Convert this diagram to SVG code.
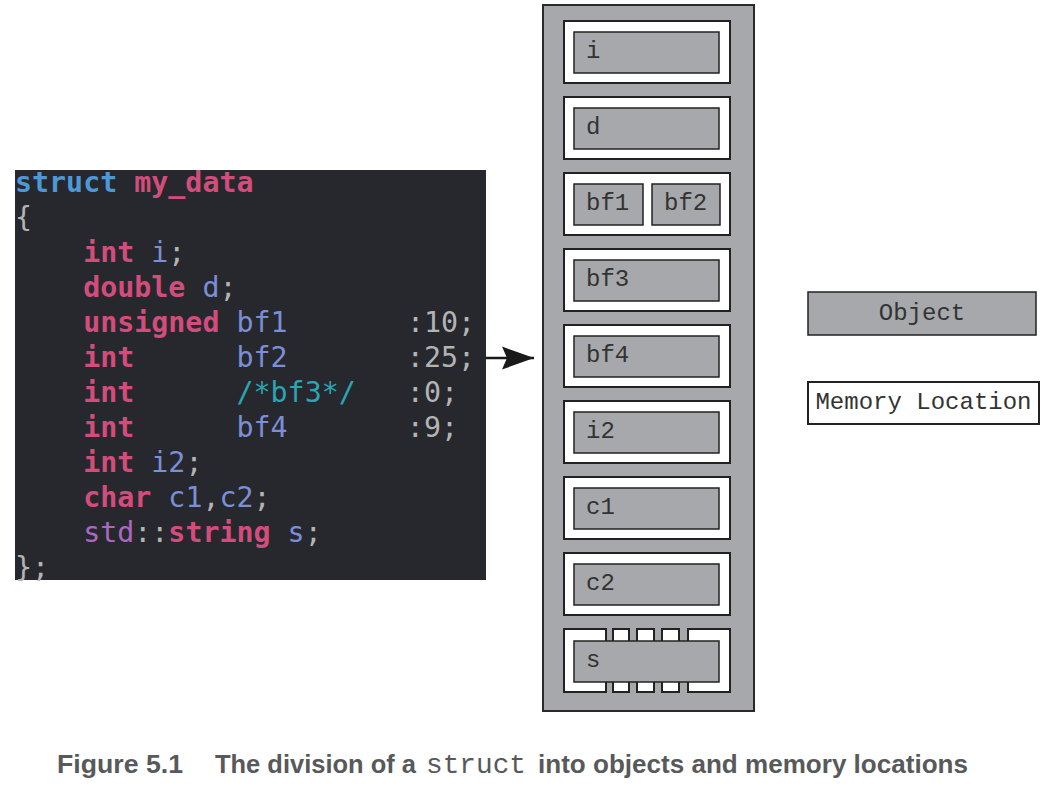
<svg xmlns="http://www.w3.org/2000/svg" width="1057" height="787" viewBox="0 0 1057 787">
<style>
.code{font-family:"DejaVu Sans Mono","Liberation Mono",monospace;font-size:28.3px;white-space:pre}
.kw{fill:#d24d7b;font-weight:bold}
.st{fill:#4e98d8;font-weight:bold}
.id{fill:#7a8fd8}
.pu{fill:#b4b4b4}
.cm{fill:#2ba5b3}
.ns{fill:#ab68c2}
.mem{fill:#fff;stroke:#222;stroke-width:2}
.obj{fill:#a7a8ab;stroke:#222;stroke-width:1.5}
.lbl{font-family:"Liberation Mono","Courier New",monospace;font-size:24px;fill:#333}
.cap{font-family:"Liberation Sans",Arial,sans-serif;font-weight:bold;font-size:26px;fill:#58595b}
.capm{font-family:"Liberation Mono","Courier New",monospace;font-size:27px;fill:#58595b}
</style>
<defs>
<marker id="ah" markerUnits="userSpaceOnUse" markerWidth="40" markerHeight="30" refX="34" refY="12" orient="auto" viewBox="0 0 40 30">
<path d="M34,12 L2,0.5 L7,12 L2,23.5 Z" fill="#1a1a1a"/>
</marker>
</defs>
<rect width="1057" height="787" fill="#fff"/>

<g id="code">
<rect x="15" y="170" width="471" height="410" fill="#27282d"/>
<text class="code" x="15" y="192"><tspan class="st">struct</tspan> <tspan class="kw">my_data</tspan></text>
<text class="code pu" x="15" y="227">{</text>
<text class="code" x="15" y="262">    <tspan class="kw">int</tspan> <tspan class="id">i</tspan><tspan class="pu">;</tspan></text>
<text class="code" x="15" y="297">    <tspan class="kw">double</tspan> <tspan class="id">d</tspan><tspan class="pu">;</tspan></text>
<text class="code" x="15" y="332">    <tspan class="kw">unsigned</tspan> <tspan class="id">bf1</tspan>       <tspan class="pu">:10;</tspan></text>
<text class="code" x="15" y="367">    <tspan class="kw">int</tspan>      <tspan class="id">bf2</tspan>       <tspan class="pu">:25;</tspan></text>
<text class="code" x="15" y="402">    <tspan class="kw">int</tspan>      <tspan class="cm">/*bf3*/</tspan>   <tspan class="pu">:0;</tspan></text>
<text class="code" x="15" y="437">    <tspan class="kw">int</tspan>      <tspan class="id">bf4</tspan>       <tspan class="pu">:9;</tspan></text>
<text class="code" x="15" y="472">    <tspan class="kw">int</tspan> <tspan class="id">i2</tspan><tspan class="pu">;</tspan></text>
<text class="code" x="15" y="507">    <tspan class="kw">char</tspan> <tspan class="id">c1</tspan><tspan class="pu">,</tspan><tspan class="id">c2</tspan><tspan class="pu">;</tspan></text>
<text class="code" x="15" y="542">    <tspan class="ns">std</tspan><tspan class="pu">::</tspan><tspan class="kw">string</tspan> <tspan class="id">s</tspan><tspan class="pu">;</tspan></text>
<text class="code pu" x="15" y="577">};</text>
</g>

<g id="connectors">
<line x1="486" y1="358" x2="534" y2="358" stroke="#1a1a1a" stroke-width="2.5" marker-end="url(#ah)"/>
</g>

<g id="struct">
<rect x="543" y="5" width="211" height="706" fill="#a7a8ab" stroke="#2a2a2a" stroke-width="2"/>
</g>

<g id="m-i">
<rect class="mem" x="564" y="21" width="166" height="62"/>
<rect class="obj" x="574" y="32" width="145" height="41"/>
<text class="lbl" x="586" y="58">i</text>
</g>
<g id="m-d">
<rect class="mem" x="564" y="97" width="166" height="62"/>
<rect class="obj" x="574" y="108" width="145" height="41"/>
<text class="lbl" x="586" y="134">d</text>
</g>
<g id="m-bf12">
<rect class="mem" x="564" y="173" width="166" height="62"/>
<rect class="obj" x="574" y="184" width="69" height="41"/>
<rect class="obj" x="652" y="184" width="68" height="41"/>
<text class="lbl" x="586" y="210">bf1</text>
<text class="lbl" x="664" y="210">bf2</text>
</g>
<g id="m-bf3">
<rect class="mem" x="564" y="249" width="166" height="62"/>
<rect class="obj" x="574" y="260" width="145" height="41"/>
<text class="lbl" x="586" y="286">bf3</text>
</g>
<g id="m-bf4">
<rect class="mem" x="564" y="325" width="166" height="62"/>
<rect class="obj" x="574" y="336" width="145" height="41"/>
<text class="lbl" x="586" y="362">bf4</text>
</g>
<g id="m-i2">
<rect class="mem" x="564" y="401" width="166" height="62"/>
<rect class="obj" x="574" y="412" width="145" height="41"/>
<text class="lbl" x="586" y="438">i2</text>
</g>
<g id="m-c1">
<rect class="mem" x="564" y="477" width="166" height="62"/>
<rect class="obj" x="574" y="488" width="145" height="41"/>
<text class="lbl" x="586" y="514">c1</text>
</g>
<g id="m-c2">
<rect class="mem" x="564" y="553" width="166" height="62"/>
<rect class="obj" x="574" y="564" width="145" height="41"/>
<text class="lbl" x="586" y="590">c2</text>
</g>
<g id="m-s">
<rect class="mem" x="564" y="629" width="42" height="63"/>
<rect class="mem" x="613" y="629" width="16" height="63"/>
<rect class="mem" x="637" y="629" width="17" height="63"/>
<rect class="mem" x="662" y="629" width="17" height="63"/>
<rect class="mem" x="688" y="629" width="42" height="63"/>
<rect class="obj" x="574" y="641" width="145" height="41"/>
<text class="lbl" x="586" y="667">s</text>
</g>

<g id="legend-object">
<rect class="obj" x="808" y="292" width="228" height="43"/>
<text class="lbl" x="922" y="320" text-anchor="middle">Object</text>
</g>
<g id="legend-memory">
<rect class="mem" x="808" y="382" width="231" height="42" stroke-width="1.8"/>
<text class="lbl" x="923.5" y="409" text-anchor="middle">Memory Location</text>
</g>

<g id="caption">
<text class="cap" x="57" y="773" textLength="126" lengthAdjust="spacingAndGlyphs">Figure 5.1</text>
<text class="cap" x="215" y="773" textLength="201" lengthAdjust="spacingAndGlyphs">The division of a</text>
<text class="capm" x="426" y="773" textLength="100" lengthAdjust="spacingAndGlyphs">struct</text>
<text class="cap" x="538" y="773" textLength="430" lengthAdjust="spacingAndGlyphs">into objects and memory locations</text>
</g>
</svg>
